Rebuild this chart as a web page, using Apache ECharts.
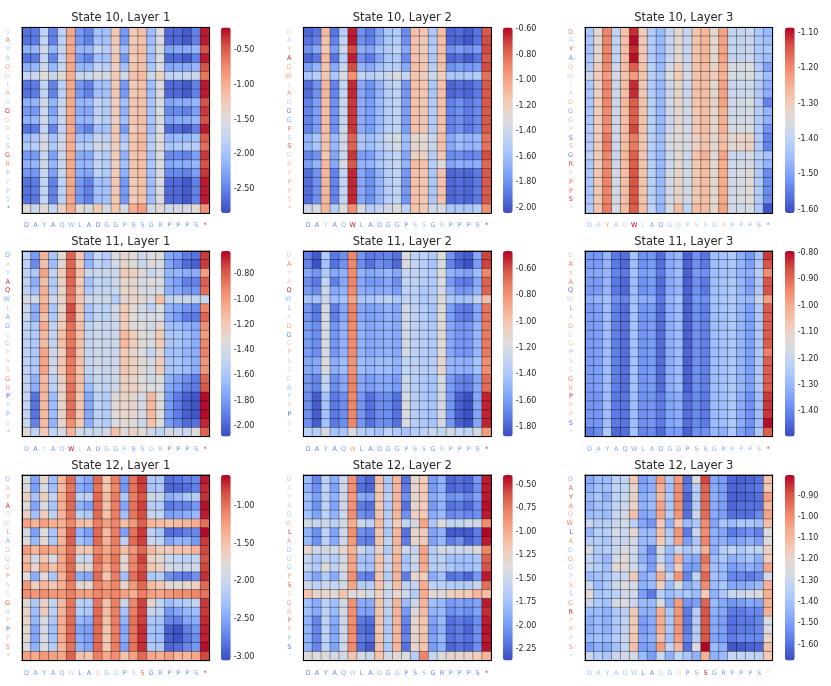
<!DOCTYPE html>
<html>
<head>
<meta charset="utf-8">
<style>html,body{margin:0;padding:0;background:#fff}#chart{width:831px;height:686px}</style>
<script src="https://cdn.jsdelivr.net/npm/echarts@6/dist/echarts.min.js"></script>
</head>
<body>
<div id="chart"></div>
<script>
var residues = ['D','A','Y','A','Q','W','L','A','D','G','G','P','S','S','G','R','P','P','P','S','*'];

// heat values: distinct rows per panel, order says which row goes where
var s10l1Rows = [
 [-2.6,-2.55,-1.75,-2.5,-1.8,-0.95,-2.35,-2.5,-2.0,-2.0,-1.2,-2.35,-1.25,-1.15,-2.05,-1.55,-2.65,-2.65,-2.75,-2.5,-0.25],
 [-2.35,-2.35,-1.7,-2.3,-1.7,-0.95,-2.2,-2.25,-1.8,-1.9,-1.25,-2.15,-1.2,-1.15,-2.0,-1.55,-2.45,-2.45,-2.5,-2.3,-0.35],
 [-2.15,-2.1,-1.65,-2.1,-1.7,-0.95,-2.1,-2.1,-1.75,-1.85,-1.3,-2.0,-1.2,-1.15,-1.95,-1.55,-2.25,-2.2,-2.2,-2.1,-0.45],
 [-2.05,-1.95,-1.6,-2.0,-1.65,-1.0,-2.0,-2.0,-1.7,-1.8,-1.25,-1.95,-1.2,-1.1,-1.9,-1.5,-2.1,-2.05,-2.1,-2.0,-0.5],
 [-1.9,-1.85,-1.55,-1.9,-1.6,-1.0,-1.85,-1.85,-1.6,-1.7,-1.3,-1.8,-1.2,-1.1,-1.85,-1.5,-1.95,-1.9,-1.85,-1.85,-0.6],
 [-1.75,-1.7,-1.5,-1.7,-1.45,-1.0,-1.7,-1.7,-1.55,-1.6,-1.25,-1.65,-1.15,-1.1,-1.7,-1.35,-1.8,-1.75,-1.75,-1.7,-0.65],
 [-1.5,-1.7,-1.45,-1.75,-1.35,-0.95,-1.45,-1.6,-1.25,-1.6,-1.2,-1.6,-1.0,-0.9,-1.65,-1.45,-1.65,-1.6,-1.6,-1.45,-0.8]
];
var s10l1Order = [0,0,2,0,2,5,0,0,2,1,2,0,3,4,1,2,1,0,0,0,6];

var s10l2Rows = [
 [-1.95,-1.9,-1.08,-1.9,-1.5,-0.63,-1.8,-1.88,-1.72,-1.55,-1.52,-1.82,-1.12,-1.15,-1.55,-1.1,-1.95,-1.92,-1.98,-1.9,-0.75],
 [-1.9,-1.85,-1.12,-1.85,-1.45,-0.62,-1.8,-1.85,-1.7,-1.55,-1.5,-1.8,-1.12,-1.15,-1.55,-1.1,-1.95,-1.95,-2.0,-1.9,-0.72],
 [-1.8,-1.7,-1.15,-1.75,-1.4,-0.72,-1.68,-1.72,-1.6,-1.52,-1.45,-1.7,-1.13,-1.18,-1.5,-1.13,-1.8,-1.75,-1.8,-1.75,-0.72],
 [-1.75,-1.65,-1.13,-1.7,-1.42,-0.72,-1.65,-1.7,-1.6,-1.5,-1.5,-1.7,-1.12,-1.15,-1.5,-1.12,-1.8,-1.75,-1.78,-1.75,-0.72],
 [-1.55,-1.5,-1.15,-1.55,-1.35,-0.92,-1.45,-1.5,-1.45,-1.42,-1.33,-1.45,-1.15,-1.2,-1.4,-1.2,-1.55,-1.55,-1.55,-1.52,-0.82],
 [-1.92,-1.8,-1.08,-1.85,-1.45,-0.65,-1.7,-1.8,-1.65,-1.5,-1.45,-1.78,-1.12,-1.15,-1.55,-1.12,-1.95,-1.92,-1.95,-1.88,-0.75],
 [-1.85,-1.75,-1.1,-1.8,-1.42,-0.68,-1.68,-1.75,-1.62,-1.5,-1.45,-1.75,-1.12,-1.15,-1.52,-1.12,-1.85,-1.8,-1.88,-1.82,-0.75],
 [-1.65,-1.55,-1.12,-1.62,-1.38,-0.78,-1.55,-1.6,-1.52,-1.42,-1.35,-1.6,-1.25,-1.28,-1.42,-1.12,-1.7,-1.6,-1.65,-1.62,-0.82],
 [-1.85,-1.8,-1.15,-1.72,-1.42,-0.68,-1.75,-1.75,-1.6,-1.5,-1.45,-1.72,-1.2,-1.22,-1.52,-1.15,-1.82,-1.8,-1.85,-1.82,-0.72],
 [-1.75,-1.65,-1.08,-1.7,-1.35,-0.75,-1.65,-1.65,-1.55,-1.48,-1.42,-1.65,-1.1,-1.13,-1.5,-1.3,-1.72,-1.68,-1.7,-1.68,-0.8],
 [-1.4,-1.35,-1.08,-1.5,-1.32,-0.92,-1.35,-1.5,-1.45,-1.38,-1.32,-1.48,-1.13,-1.18,-1.38,-1.35,-1.55,-1.55,-1.55,-1.5,-0.92]
];
var s10l2Order = [0,1,2,0,3,4,5,5,6,6,6,6,7,7,8,9,5,5,5,5,10];

var s10l3Rows = [
 [-1.43,-1.33,-1.19,-1.4,-1.28,-1.11,-1.3,-1.42,-1.46,-1.39,-1.33,-1.39,-1.28,-1.26,-1.33,-1.23,-1.39,-1.39,-1.38,-1.43,-1.46],
 [-1.43,-1.33,-1.19,-1.4,-1.27,-1.09,-1.29,-1.42,-1.46,-1.39,-1.33,-1.39,-1.28,-1.26,-1.33,-1.23,-1.39,-1.39,-1.38,-1.43,-1.45],
 [-1.44,-1.33,-1.19,-1.4,-1.27,-1.11,-1.29,-1.42,-1.46,-1.39,-1.33,-1.39,-1.28,-1.26,-1.33,-1.23,-1.39,-1.39,-1.38,-1.43,-1.43],
 [-1.42,-1.3,-1.2,-1.38,-1.27,-1.15,-1.28,-1.41,-1.46,-1.37,-1.31,-1.37,-1.28,-1.27,-1.32,-1.25,-1.36,-1.36,-1.35,-1.42,-1.5],
 [-1.38,-1.3,-1.22,-1.37,-1.28,-1.22,-1.28,-1.41,-1.44,-1.35,-1.3,-1.36,-1.28,-1.27,-1.3,-1.25,-1.36,-1.36,-1.35,-1.4,-1.45],
 [-1.43,-1.31,-1.19,-1.38,-1.27,-1.11,-1.29,-1.42,-1.46,-1.38,-1.32,-1.38,-1.28,-1.27,-1.33,-1.23,-1.38,-1.38,-1.37,-1.42,-1.48],
 [-1.43,-1.3,-1.19,-1.38,-1.26,-1.15,-1.28,-1.41,-1.46,-1.37,-1.32,-1.37,-1.28,-1.27,-1.32,-1.23,-1.37,-1.37,-1.35,-1.42,-1.54],
 [-1.43,-1.3,-1.2,-1.38,-1.27,-1.15,-1.28,-1.41,-1.46,-1.38,-1.33,-1.37,-1.29,-1.27,-1.33,-1.25,-1.37,-1.37,-1.36,-1.42,-1.47],
 [-1.42,-1.3,-1.2,-1.38,-1.27,-1.13,-1.28,-1.41,-1.46,-1.38,-1.33,-1.37,-1.29,-1.27,-1.33,-1.25,-1.36,-1.36,-1.35,-1.42,-1.52],
 [-1.42,-1.3,-1.18,-1.38,-1.27,-1.18,-1.29,-1.41,-1.45,-1.36,-1.34,-1.36,-1.31,-1.28,-1.33,-1.27,-1.33,-1.32,-1.31,-1.42,-1.54],
 [-1.41,-1.3,-1.19,-1.39,-1.26,-1.15,-1.29,-1.42,-1.46,-1.38,-1.33,-1.38,-1.28,-1.25,-1.34,-1.23,-1.38,-1.38,-1.36,-1.41,-1.44],
 [-1.43,-1.29,-1.19,-1.37,-1.27,-1.14,-1.28,-1.41,-1.46,-1.37,-1.32,-1.37,-1.29,-1.27,-1.33,-1.24,-1.37,-1.36,-1.34,-1.42,-1.53],
 [-1.42,-1.28,-1.18,-1.36,-1.27,-1.15,-1.27,-1.4,-1.47,-1.36,-1.27,-1.4,-1.27,-1.27,-1.33,-1.23,-1.37,-1.37,-1.36,-1.43,-1.6]
];
var s10l3Order = [0,1,2,1,3,4,5,5,6,7,7,8,9,9,10,7,11,11,11,11,12];

var s11l1Rows = [
 [-1.5,-1.8,-1.08,-1.6,-1.32,-0.82,-1.18,-1.7,-1.45,-1.55,-1.35,-1.3,-1.32,-1.45,-1.35,-1.35,-1.75,-1.8,-1.92,-1.95,-0.72],
 [-1.5,-1.87,-1.15,-1.65,-1.3,-0.82,-1.2,-1.68,-1.5,-1.55,-1.4,-1.3,-1.32,-1.45,-1.32,-1.38,-1.75,-1.85,-1.98,-2.02,-0.72],
 [-1.5,-1.58,-1.02,-1.5,-1.22,-0.82,-1.15,-1.45,-1.45,-1.45,-1.45,-1.22,-1.25,-1.33,-1.45,-1.4,-1.68,-1.68,-1.72,-1.72,-1.0],
 [-1.5,-1.72,-1.13,-1.58,-1.26,-0.82,-1.2,-1.62,-1.48,-1.5,-1.42,-1.3,-1.3,-1.4,-1.35,-1.38,-1.72,-1.78,-1.9,-1.9,-0.8],
 [-1.5,-1.65,-1.08,-1.55,-1.28,-0.85,-1.18,-1.58,-1.48,-1.48,-1.45,-1.28,-1.28,-1.38,-1.4,-1.4,-1.7,-1.75,-1.82,-1.82,-0.85],
 [-1.38,-1.42,-1.12,-1.42,-1.28,-0.88,-1.2,-1.42,-1.42,-1.42,-1.55,-1.3,-1.27,-1.3,-1.4,-1.15,-1.5,-1.45,-1.45,-1.48,-1.45],
 [-1.45,-1.72,-1.05,-1.6,-1.28,-0.75,-1.15,-1.6,-1.5,-1.52,-1.4,-1.2,-1.32,-1.4,-1.5,-1.35,-1.7,-1.75,-1.82,-1.85,-0.92],
 [-1.45,-1.72,-1.15,-1.58,-1.25,-0.78,-1.18,-1.6,-1.48,-1.5,-1.42,-1.2,-1.33,-1.4,-1.38,-1.38,-1.72,-1.8,-1.92,-1.92,-0.82],
 [-1.5,-1.58,-1.05,-1.5,-1.22,-0.85,-1.15,-1.5,-1.42,-1.45,-1.42,-1.22,-1.33,-1.35,-1.42,-1.3,-1.62,-1.65,-1.7,-1.75,-0.95],
 [-1.5,-1.58,-1.12,-1.5,-1.15,-0.87,-1.15,-1.48,-1.42,-1.45,-1.42,-1.12,-1.22,-1.32,-1.38,-1.2,-1.58,-1.58,-1.65,-1.72,-1.0],
 [-1.5,-1.58,-1.12,-1.5,-1.15,-0.87,-1.15,-1.48,-1.42,-1.45,-1.42,-1.12,-1.22,-1.32,-1.38,-1.2,-1.58,-1.58,-1.65,-1.72,-0.92],
 [-1.5,-1.58,-1.02,-1.42,-1.25,-0.83,-1.18,-1.48,-1.42,-1.45,-1.42,-1.2,-1.3,-1.35,-1.48,-1.3,-1.62,-1.62,-1.68,-1.72,-0.9],
 [-1.5,-1.58,-1.02,-1.42,-1.18,-0.88,-1.15,-1.48,-1.42,-1.45,-1.42,-1.18,-1.25,-1.33,-1.4,-1.22,-1.6,-1.6,-1.65,-1.72,-0.98],
 [-1.48,-1.7,-1.12,-1.52,-1.25,-0.9,-1.15,-1.55,-1.45,-1.48,-1.42,-1.25,-1.28,-1.35,-1.42,-1.35,-1.7,-1.78,-1.85,-1.92,-0.82],
 [-1.48,-1.72,-1.1,-1.52,-1.28,-0.85,-1.15,-1.65,-1.45,-1.5,-1.42,-1.25,-1.25,-1.33,-1.35,-1.35,-1.75,-1.8,-1.9,-1.92,-0.78],
 [-1.48,-1.95,-1.12,-1.65,-1.28,-0.85,-1.18,-1.75,-1.5,-1.55,-1.33,-1.28,-1.3,-1.4,-1.12,-1.35,-1.8,-1.92,-2.02,-2.05,-0.63],
 [-1.45,-1.9,-1.12,-1.7,-1.28,-0.95,-1.2,-1.72,-1.5,-1.55,-1.35,-1.32,-1.33,-1.45,-1.15,-1.35,-1.8,-1.88,-1.98,-1.95,-0.68],
 [-1.32,-1.5,-1.2,-1.5,-1.4,-1.1,-1.4,-1.45,-1.45,-1.4,-1.15,-1.35,-1.25,-1.32,-1.42,-1.5,-1.4,-1.42,-1.45,-1.35,-0.82]
];
var s11l1Order = [0,1,2,3,4,5,6,7,8,9,10,11,12,12,13,14,15,15,15,16,17];

var s11l2Rows = [
 [-1.7,-1.82,-1.38,-1.72,-1.65,-0.76,-1.62,-1.72,-1.7,-1.68,-1.75,-1.2,-1.32,-1.32,-1.38,-1.17,-1.62,-1.78,-1.82,-1.55,-0.58],
 [-1.68,-1.85,-1.42,-1.75,-1.63,-0.76,-1.65,-1.75,-1.65,-1.68,-1.78,-1.18,-1.3,-1.35,-1.42,-1.2,-1.68,-1.8,-1.85,-1.6,-0.58],
 [-1.55,-1.62,-1.38,-1.55,-1.5,-0.78,-1.5,-1.55,-1.52,-1.48,-1.55,-1.28,-1.3,-1.32,-1.35,-1.18,-1.5,-1.55,-1.58,-1.45,-0.75],
 [-1.65,-1.72,-1.3,-1.7,-1.55,-0.75,-1.55,-1.62,-1.6,-1.55,-1.65,-1.3,-1.32,-1.35,-1.38,-1.2,-1.6,-1.7,-1.72,-1.55,-0.65],
 [-1.6,-1.65,-1.25,-1.55,-1.5,-0.78,-1.52,-1.55,-1.55,-1.52,-1.6,-1.32,-1.33,-1.38,-1.38,-1.2,-1.5,-1.62,-1.62,-1.5,-0.65],
 [-1.42,-1.42,-1.25,-1.45,-1.42,-0.86,-1.4,-1.4,-1.35,-1.32,-1.38,-1.3,-1.32,-1.38,-1.35,-1.15,-1.38,-1.42,-1.42,-1.3,-0.98],
 [-1.62,-1.72,-1.2,-1.7,-1.55,-0.75,-1.55,-1.58,-1.55,-1.5,-1.55,-1.22,-1.32,-1.35,-1.42,-1.15,-1.58,-1.7,-1.72,-1.55,-0.7],
 [-1.6,-1.65,-1.2,-1.62,-1.5,-0.78,-1.5,-1.55,-1.52,-1.5,-1.55,-1.22,-1.32,-1.35,-1.38,-1.15,-1.55,-1.62,-1.62,-1.48,-0.72],
 [-1.55,-1.55,-1.18,-1.52,-1.45,-0.8,-1.45,-1.48,-1.45,-1.45,-1.5,-1.3,-1.32,-1.35,-1.35,-1.12,-1.48,-1.5,-1.52,-1.42,-0.78],
 [-1.62,-1.68,-1.3,-1.65,-1.55,-0.75,-1.55,-1.6,-1.55,-1.55,-1.6,-1.25,-1.35,-1.38,-1.42,-1.2,-1.6,-1.68,-1.7,-1.55,-0.68],
 [-1.65,-1.82,-1.42,-1.72,-1.65,-0.76,-1.62,-1.75,-1.65,-1.65,-1.75,-1.2,-1.35,-1.38,-1.42,-1.22,-1.62,-1.8,-1.85,-1.55,-0.52],
 [-1.32,-1.35,-1.2,-1.42,-1.4,-1.18,-1.35,-1.38,-1.42,-1.32,-1.38,-1.42,-1.35,-1.32,-1.25,-1.3,-1.22,-1.3,-1.32,-1.22,-0.82]
];
var s11l2Order = [0,1,2,3,4,5,6,6,7,7,7,7,8,8,9,9,10,10,10,10,11];

var s11l3Rows = [
 [-1.37,-1.37,-1.3,-1.42,-1.44,-1.27,-1.38,-1.37,-1.44,-1.33,-1.3,-1.46,-1.38,-1.43,-1.28,-1.27,-1.25,-1.32,-1.37,-1.27,-0.84],
 [-1.36,-1.36,-1.3,-1.42,-1.45,-1.28,-1.38,-1.36,-1.44,-1.33,-1.3,-1.46,-1.38,-1.42,-1.28,-1.27,-1.25,-1.3,-1.35,-1.25,-0.87],
 [-1.34,-1.33,-1.3,-1.4,-1.42,-1.27,-1.35,-1.34,-1.42,-1.32,-1.28,-1.46,-1.36,-1.38,-1.28,-1.27,-1.26,-1.3,-1.32,-1.23,-0.95],
 [-1.32,-1.3,-1.27,-1.38,-1.4,-1.27,-1.32,-1.32,-1.42,-1.3,-1.27,-1.45,-1.36,-1.38,-1.27,-1.26,-1.24,-1.28,-1.3,-1.2,-0.98],
 [-1.36,-1.35,-1.28,-1.41,-1.44,-1.27,-1.37,-1.36,-1.44,-1.32,-1.29,-1.46,-1.38,-1.41,-1.28,-1.27,-1.25,-1.3,-1.35,-1.25,-0.88],
 [-1.36,-1.35,-1.28,-1.41,-1.44,-1.27,-1.37,-1.36,-1.44,-1.32,-1.29,-1.45,-1.38,-1.41,-1.28,-1.27,-1.25,-1.3,-1.35,-1.25,-0.93],
 [-1.37,-1.37,-1.28,-1.42,-1.43,-1.28,-1.38,-1.37,-1.42,-1.34,-1.32,-1.44,-1.39,-1.42,-1.29,-1.28,-1.25,-1.32,-1.38,-1.28,-0.84],
 [-1.37,-1.37,-1.28,-1.42,-1.43,-1.28,-1.38,-1.37,-1.42,-1.34,-1.32,-1.44,-1.39,-1.42,-1.29,-1.28,-1.25,-1.32,-1.38,-1.28,-0.8],
 [-1.42,-1.39,-1.25,-1.45,-1.44,-1.27,-1.4,-1.39,-1.45,-1.36,-1.36,-1.46,-1.38,-1.38,-1.3,-1.32,-1.25,-1.35,-1.38,-1.25,-0.88]
];
var s11l3Order = [0,1,2,1,1,3,4,4,4,4,4,5,4,4,4,4,6,6,6,7,8];

var s12l1Rows = [
 [-1.85,-2.5,-1.7,-2.3,-1.4,-0.95,-2.35,-2.5,-0.95,-1.55,-1.05,-2.55,-1.0,-0.75,-2.2,-2.2,-2.85,-2.8,-2.75,-2.7,-0.65],
 [-1.8,-2.55,-1.85,-2.3,-1.45,-1.0,-2.45,-2.55,-1.0,-1.55,-1.1,-2.6,-1.0,-0.78,-2.25,-2.2,-2.9,-2.9,-2.85,-2.75,-0.7],
 [-1.65,-2.25,-1.6,-2.05,-1.35,-0.95,-2.1,-2.1,-0.95,-1.45,-1.05,-2.2,-1.05,-0.85,-1.95,-2.0,-2.45,-2.35,-2.2,-2.15,-0.72],
 [-1.8,-2.5,-1.85,-2.25,-1.35,-0.95,-2.4,-2.55,-0.95,-1.5,-1.05,-2.5,-1.0,-0.78,-2.15,-2.15,-2.8,-2.75,-2.75,-2.6,-0.62],
 [-1.65,-2.3,-1.6,-2.1,-1.4,-1.0,-2.1,-2.2,-0.95,-1.5,-1.05,-2.3,-1.0,-0.82,-2.0,-2.05,-2.55,-2.5,-2.45,-2.35,-0.65],
 [-1.25,-1.4,-1.25,-1.35,-1.35,-1.1,-1.45,-1.5,-1.05,-1.25,-1.1,-1.45,-1.2,-0.9,-1.4,-1.45,-1.5,-1.45,-1.4,-1.35,-0.98],
 [-1.9,-2.55,-1.8,-2.25,-1.4,-0.9,-2.4,-2.55,-0.95,-1.45,-1.05,-2.55,-1.0,-0.75,-2.1,-2.25,-2.85,-2.85,-2.75,-2.7,-0.6],
 [-1.8,-2.35,-1.7,-2.2,-1.4,-0.9,-2.25,-2.4,-0.95,-1.4,-1.05,-2.1,-0.95,-0.78,-2.0,-2.05,-2.5,-2.4,-2.4,-2.6,-0.75],
 [-1.2,-1.4,-1.25,-1.3,-1.3,-1.0,-1.55,-1.55,-1.1,-1.3,-1.1,-1.5,-1.2,-0.95,-1.45,-1.6,-1.6,-1.5,-1.5,-1.4,-0.8],
 [-1.45,-1.95,-1.55,-1.9,-1.3,-0.95,-2.0,-2.0,-0.98,-1.25,-1.0,-1.75,-1.1,-0.78,-1.65,-1.75,-2.0,-2.05,-2.1,-2.05,-0.85],
 [-1.35,-1.7,-1.3,-1.5,-1.3,-0.95,-1.7,-1.75,-1.05,-1.35,-1.05,-1.75,-1.1,-0.85,-1.55,-1.65,-1.9,-1.95,-1.95,-1.95,-0.8],
 [-1.8,-2.45,-1.75,-2.25,-1.4,-0.95,-2.45,-2.5,-0.95,-1.55,-1.05,-2.3,-0.98,-0.78,-2.2,-2.15,-2.65,-2.75,-2.8,-2.65,-0.72],
 [-1.2,-1.65,-1.4,-1.55,-1.35,-1.05,-1.75,-1.75,-1.1,-1.25,-1.1,-1.7,-1.2,-0.95,-1.45,-1.55,-1.75,-1.8,-1.7,-1.65,-0.95],
 [-1.15,-1.2,-1.15,-1.2,-1.2,-1.05,-1.25,-1.25,-1.1,-1.15,-1.1,-1.25,-1.35,-1.05,-1.25,-1.3,-1.2,-1.15,-1.15,-1.1,-1.0],
 [-1.75,-2.2,-1.65,-2.05,-1.45,-1.0,-2.1,-2.15,-1.0,-1.5,-1.05,-2.0,-1.1,-0.78,-1.7,-2.05,-2.3,-2.2,-2.15,-2.05,-0.75],
 [-1.7,-2.3,-1.6,-2.1,-1.4,-1.0,-2.15,-2.2,-0.95,-1.45,-1.05,-2.25,-1.05,-0.78,-2.0,-2.1,-2.6,-2.5,-2.35,-2.3,-0.75],
 [-1.7,-2.35,-1.85,-2.2,-1.35,-0.95,-2.35,-2.45,-0.95,-1.5,-1.05,-2.4,-1.0,-0.78,-2.2,-2.25,-2.7,-2.75,-2.5,-2.45,-0.7],
 [-1.75,-2.5,-1.9,-2.3,-1.35,-0.95,-2.5,-2.55,-0.95,-1.55,-1.05,-2.5,-1.0,-0.72,-2.25,-2.3,-2.95,-3.0,-2.75,-2.6,-0.67],
 [-1.75,-2.5,-1.85,-2.25,-1.35,-0.95,-2.45,-2.55,-0.95,-1.55,-1.05,-2.45,-1.0,-0.72,-2.25,-2.3,-2.95,-3.0,-2.8,-2.65,-0.67],
 [-1.85,-2.4,-1.85,-2.15,-1.4,-1.0,-2.4,-2.5,-0.95,-1.55,-1.05,-2.55,-1.0,-0.72,-2.2,-2.2,-2.9,-2.85,-2.7,-2.6,-0.62],
 [-1.25,-1.3,-1.2,-1.25,-1.3,-0.92,-1.5,-1.55,-1.05,-1.3,-1.15,-1.5,-1.25,-0.95,-1.3,-1.35,-1.25,-1.4,-1.4,-1.3,-0.8]
];

var s12l2Rows = [
 [-1.8,-2.1,-1.6,-1.9,-1.5,-0.85,-2.15,-2.25,-1.1,-1.7,-1.05,-2.2,-1.3,-1.2,-2.0,-1.85,-2.25,-2.2,-2.25,-2.0,-0.45],
 [-1.85,-2.05,-1.6,-1.95,-1.5,-0.85,-2.2,-2.25,-1.15,-1.7,-1.05,-2.15,-1.3,-1.2,-2.0,-1.85,-2.25,-2.2,-2.25,-2.05,-0.45],
 [-1.75,-1.95,-1.6,-1.85,-1.5,-0.9,-1.9,-1.95,-1.15,-1.6,-1.05,-2.05,-1.3,-1.2,-1.9,-1.8,-2.05,-2.0,-2.1,-1.95,-0.45],
 [-1.8,-2.05,-1.6,-1.95,-1.5,-0.85,-2.15,-2.2,-1.15,-1.7,-1.05,-2.2,-1.3,-1.2,-2.0,-1.85,-2.2,-2.15,-2.25,-2.05,-0.42],
 [-1.75,-1.95,-1.6,-1.85,-1.5,-0.85,-2.05,-2.1,-1.15,-1.65,-1.05,-2.05,-1.25,-1.2,-1.9,-1.8,-2.1,-2.05,-2.1,-2.05,-0.45],
 [-1.45,-1.55,-1.5,-1.6,-1.45,-1.0,-1.5,-1.6,-1.1,-1.6,-1.2,-1.55,-1.45,-0.95,-1.7,-1.4,-1.55,-1.55,-1.5,-1.45,-0.82],
 [-1.85,-2.05,-1.6,-1.95,-1.5,-0.85,-2.05,-2.1,-1.15,-1.7,-1.05,-2.2,-1.3,-1.2,-1.95,-1.85,-2.3,-2.3,-2.3,-2.15,-0.4],
 [-1.8,-2.05,-1.6,-1.9,-1.5,-0.9,-2.1,-2.15,-1.15,-1.6,-1.05,-2.15,-1.3,-1.2,-1.95,-1.8,-2.15,-2.05,-2.25,-2.15,-0.45],
 [-1.3,-1.5,-1.45,-1.45,-1.3,-1.05,-1.5,-1.65,-1.25,-1.65,-1.1,-1.5,-1.55,-0.95,-1.65,-1.45,-1.5,-1.5,-1.5,-1.38,-0.8],
 [-1.55,-1.7,-1.55,-1.65,-1.45,-0.95,-1.75,-1.75,-1.15,-1.55,-1.05,-1.75,-1.5,-0.95,-1.65,-1.6,-1.75,-1.75,-1.75,-1.7,-0.65],
 [-1.55,-1.65,-1.35,-1.6,-1.4,-0.95,-1.7,-1.75,-1.15,-1.55,-1.05,-1.7,-1.55,-1.0,-1.65,-1.6,-1.7,-1.75,-1.75,-1.7,-0.6],
 [-1.75,-1.95,-1.65,-1.9,-1.5,-0.85,-2.1,-2.15,-1.15,-1.65,-1.05,-2.15,-1.3,-1.2,-1.9,-1.75,-2.2,-2.15,-2.25,-2.0,-0.45],
 [-1.5,-1.6,-1.5,-1.55,-1.45,-0.95,-1.65,-1.65,-1.15,-1.5,-1.1,-1.6,-1.55,-1.0,-1.6,-1.6,-1.65,-1.65,-1.65,-1.55,-0.7],
 [-1.15,-1.3,-1.28,-1.35,-1.15,-1.4,-1.35,-1.45,-1.25,-1.5,-1.3,-1.5,-1.65,-1.0,-1.35,-1.35,-1.25,-1.2,-1.2,-1.05,-1.1],
 [-1.75,-1.9,-1.6,-1.75,-1.45,-0.85,-1.9,-1.9,-1.15,-1.55,-1.05,-1.8,-1.5,-1.05,-1.75,-1.8,-2.0,-1.95,-2.0,-1.95,-0.45],
 [-1.75,-1.9,-1.6,-1.8,-1.45,-0.85,-1.95,-1.95,-1.15,-1.6,-1.05,-2.0,-1.4,-1.1,-1.85,-1.8,-2.05,-2.0,-2.05,-1.95,-0.5],
 [-1.85,-2.1,-1.6,-1.9,-1.5,-0.85,-2.15,-2.2,-1.15,-1.65,-1.05,-2.1,-1.3,-1.15,-1.95,-1.8,-2.2,-2.15,-2.2,-2.05,-0.45],
 [-1.85,-2.1,-1.6,-1.95,-1.5,-0.82,-2.2,-2.25,-1.15,-1.7,-1.05,-2.15,-1.3,-1.15,-2.0,-1.85,-2.2,-2.15,-2.25,-2.05,-0.43],
 [-1.85,-2.1,-1.6,-1.9,-1.5,-0.85,-2.15,-2.2,-1.15,-1.65,-1.05,-2.1,-1.3,-1.15,-1.95,-1.8,-2.2,-2.15,-2.2,-2.05,-0.45],
 [-1.85,-2.1,-1.6,-1.95,-1.5,-0.82,-2.2,-2.3,-1.12,-1.7,-1.05,-2.2,-1.3,-1.15,-2.0,-1.85,-2.25,-2.2,-2.25,-2.05,-0.43],
 [-1.4,-1.4,-1.4,-1.45,-1.45,-1.15,-1.45,-1.5,-1.15,-1.45,-1.35,-1.4,-1.65,-0.8,-1.55,-1.4,-1.3,-1.3,-1.3,-1.2,-1.05]
];

var s12l3Rows = [
 [-1.47,-1.42,-1.42,-1.34,-1.32,-1.15,-1.5,-1.45,-1.03,-1.38,-1.03,-1.6,-1.26,-0.88,-1.48,-1.5,-1.62,-1.63,-1.62,-1.6,-1.12],
 [-1.45,-1.4,-1.4,-1.32,-1.32,-1.2,-1.48,-1.45,-1.08,-1.4,-1.0,-1.58,-1.35,-0.92,-1.47,-1.5,-1.62,-1.62,-1.6,-1.58,-1.15],
 [-1.42,-1.38,-1.45,-1.33,-1.3,-1.18,-1.45,-1.42,-1.1,-1.38,-1.0,-1.62,-1.36,-0.93,-1.45,-1.5,-1.63,-1.63,-1.62,-1.6,-1.03],
 [-1.45,-1.4,-1.4,-1.33,-1.3,-1.2,-1.45,-1.42,-1.05,-1.38,-1.0,-1.6,-1.36,-0.93,-1.47,-1.5,-1.62,-1.6,-1.6,-1.6,-1.1],
 [-1.42,-1.4,-1.42,-1.3,-1.28,-1.12,-1.48,-1.45,-1.05,-1.36,-1.02,-1.6,-1.3,-0.94,-1.47,-1.5,-1.6,-1.6,-1.6,-1.55,-1.05],
 [-1.3,-1.35,-1.35,-1.3,-1.27,-1.35,-1.48,-1.52,-1.15,-1.45,-1.15,-1.42,-1.38,-1.0,-1.48,-1.38,-1.42,-1.38,-1.38,-1.4,-1.12],
 [-1.43,-1.35,-1.35,-1.27,-1.3,-1.2,-1.42,-1.42,-1.12,-1.37,-1.02,-1.58,-1.3,-1.0,-1.45,-1.48,-1.58,-1.55,-1.53,-1.57,-1.25],
 [-1.35,-1.35,-1.38,-1.3,-1.3,-1.27,-1.42,-1.42,-1.15,-1.35,-1.05,-1.5,-1.38,-0.98,-1.45,-1.45,-1.5,-1.48,-1.45,-1.5,-1.25],
 [-1.27,-1.37,-1.35,-1.3,-1.25,-1.28,-1.43,-1.55,-1.25,-1.42,-1.3,-1.38,-1.33,-1.08,-1.45,-1.35,-1.32,-1.38,-1.33,-1.33,-1.18],
 [-1.32,-1.38,-1.43,-1.27,-1.22,-1.3,-1.45,-1.5,-1.3,-1.43,-1.08,-1.45,-1.47,-0.95,-1.42,-1.38,-1.45,-1.42,-1.38,-1.45,-1.17],
 [-1.33,-1.36,-1.4,-1.23,-1.23,-1.27,-1.4,-1.5,-1.2,-1.42,-1.15,-1.5,-1.5,-1.0,-1.4,-1.42,-1.5,-1.48,-1.45,-1.48,-1.05],
 [-1.42,-1.4,-1.38,-1.32,-1.3,-1.15,-1.46,-1.42,-1.08,-1.33,-1.02,-1.56,-1.33,-0.93,-1.4,-1.42,-1.55,-1.55,-1.58,-1.55,-1.27],
 [-1.3,-1.42,-1.38,-1.28,-1.25,-1.27,-1.45,-1.42,-1.18,-1.42,-1.25,-1.45,-1.4,-1.0,-1.42,-1.38,-1.48,-1.47,-1.45,-1.42,-1.08],
 [-1.22,-1.38,-1.37,-1.34,-1.28,-1.28,-1.5,-1.58,-1.35,-1.42,-1.38,-1.38,-1.42,-1.15,-1.45,-1.38,-1.3,-1.3,-1.27,-1.25,-1.08],
 [-1.3,-1.38,-1.4,-1.27,-1.25,-1.3,-1.42,-1.42,-1.25,-1.47,-1.03,-1.52,-1.5,-0.92,-1.42,-1.47,-1.52,-1.5,-1.47,-1.48,-1.08],
 [-1.42,-1.42,-1.45,-1.37,-1.35,-1.15,-1.45,-1.45,-1.07,-1.38,-1.02,-1.58,-1.35,-0.9,-1.45,-1.48,-1.58,-1.58,-1.55,-1.55,-1.08],
 [-1.45,-1.42,-1.45,-1.37,-1.33,-1.15,-1.5,-1.47,-1.07,-1.38,-1.02,-1.58,-1.36,-0.9,-1.47,-1.5,-1.6,-1.58,-1.58,-1.55,-1.25],
 [-1.46,-1.42,-1.45,-1.37,-1.33,-1.15,-1.5,-1.47,-1.07,-1.38,-1.02,-1.58,-1.36,-0.9,-1.47,-1.5,-1.6,-1.58,-1.58,-1.55,-1.25],
 [-1.42,-1.4,-1.42,-1.35,-1.3,-1.15,-1.47,-1.45,-1.12,-1.4,-1.03,-1.55,-1.35,-0.9,-1.48,-1.5,-1.58,-1.55,-1.55,-1.55,-1.2],
 [-1.5,-1.45,-1.47,-1.4,-1.32,-1.12,-1.5,-1.48,-1.03,-1.33,-1.1,-1.6,-1.25,-0.8,-1.42,-1.45,-1.65,-1.65,-1.63,-1.62,-1.12],
 [-1.3,-1.36,-1.38,-1.3,-1.28,-1.28,-1.42,-1.5,-1.3,-1.45,-1.32,-1.38,-1.45,-1.08,-1.45,-1.42,-1.3,-1.32,-1.32,-1.33,-1.15]
];
var identity = residues.map(function(r, i){ return i; });

// how strong each residue letter is tinted, 0 blue .. 10 red
var s10l1Y = [5,8,3.5,3.5,7,5.5,4,7,4.5,9.5,6,6.2,5.2,3,9,7.5,3,4.8,3.5,3.5,1];
var s10l1X = [1.5,1.5,2,1.5,2.5,2.8,2,1.5,1.5,2,2,2,2,2,2,2,1.5,1.5,1.5,2,9.5];
var s10l2Y = [4.8,4,6.5,9.5,7,7,4.5,7.5,4.2,1.5,2.5,8,4,9,4.5,6.2,6,7,6.5,6,7.5];
var s10l2X = [1.5,1.5,3.5,1.5,2.5,9.8,2,1.5,2,2,2,1.5,3,3,2,3.5,1.5,1.5,1.5,2,9.5];
var s10l3Y = [7.8,4,9,1.5,6.5,5,5,4.5,6.5,2.5,3.5,5.2,1,7,1.5,9,5.5,8.5,8.5,9.5,3.5];
var s10l3X = [3,3.5,7.5,3,4.5,10,4,2,2,3.5,3.5,3,4,4,3.5,5.8,3,3,3,2.5,1];
var s11l1Y = [2,6,3.5,9.5,9.5,2.5,6.5,2,2,5,6.5,4.8,6.2,6.5,8,7,0.5,4,2,5.2,7.5];
var s11l1X = [2.5,1,4,2,3,9.8,4,1.5,2,2.5,2.5,3,2,2.5,3,3,1.5,1.5,1.5,2,9.5];
var s11l2Y = [4.2,8,5.2,5.5,9.5,3,2.2,5,7,1.5,5.2,6.5,4.2,4.5,5.2,3,4,6,1,4.2,5];
var s11l2X = [1.5,1.5,2,1.5,2,7,1.5,1.5,2,2,2,2,2.5,2.5,2,3.5,2,2,2,2,9.5];
var s11l3Y = [6,8,6.8,8,1,4.6,2,4.4,7,5,5.8,3,6.2,5.4,8,7,9.5,6.5,6.5,1,4];
var s11l3X = [2.5,2.5,2.5,2,2,2.5,2.5,2.5,2,2.5,2.5,1.5,2.5,2.5,2.5,2.5,3,3,3,3,9.5];
var s12l1Y = [3,6.5,7,9.5,4.6,5,7.5,2.5,6.5,3.5,6.5,7.5,4,5,8.5,4,6.5,1,6.5,8,7];
var s12l1X = [2,2,2,2,2.5,4.5,1.5,1.5,6,2.5,3.5,1.5,3.5,8.5,1.5,2,1.5,1.5,1.5,2,9.5];
var s12l2Y = [6.2,5.2,4.8,4,4,6.2,9.5,7.5,3.5,3.5,3.5,7,8.8,5,7,6.8,8,6.5,3.5,1,4.8];
var s12l2X = [1.5,1.5,1.5,1.5,2,3.8,1.5,1.5,3,2,3,1.5,1.5,3,1.5,1.5,1.5,1.5,1.5,1.5,9.5];
var s12l3Y = [3,8.5,9,8,6.5,8,0.5,7.5,3.5,7.5,3.5,3.8,7,3.5,7.5,9.5,6.5,7,4,7.5,4.8];
var s12l3X = [3,3,3,3,3.5,3.5,1.5,1.5,4,2.5,6,1.5,2.5,9.5,2,2,2,2,2,2,4];

// colorbar ticks
var s10l1Ticks = [-0.5,-1,-1.5,-2,-2.5];
var s10l2Ticks = [-0.6,-0.8,-1,-1.2,-1.4,-1.6,-1.8,-2];
var s10l3Ticks = [-1.1,-1.2,-1.3,-1.4,-1.5,-1.6];
var s11l1Ticks = [-0.8,-1,-1.2,-1.4,-1.6,-1.8,-2];
var s11l2Ticks = [-0.6,-0.8,-1,-1.2,-1.4,-1.6,-1.8];
var s11l3Ticks = [-0.8,-0.9,-1,-1.1,-1.2,-1.3,-1.4];
var s12l1Ticks = [-1,-1.5,-2,-2.5,-3];
var s12l2Ticks = [-0.5,-0.75,-1,-1.25,-1.5,-1.75,-2,-2.25];
var s12l3Ticks = [-0.9,-1,-1.1,-1.2,-1.3,-1.4,-1.5,-1.6];

var panels = [
 {title:'State 10, Layer 1', rows:s10l1Rows, order:s10l1Order, y:s10l1Y, x:s10l1X, ticks:s10l1Ticks, min:-2.84, max:-0.18},
 {title:'State 10, Layer 2', rows:s10l2Rows, order:s10l2Order, y:s10l2Y, x:s10l2X, ticks:s10l2Ticks, min:-2.04, max:-0.585},
 {title:'State 10, Layer 3', rows:s10l3Rows, order:s10l3Order, y:s10l3Y, x:s10l3X, ticks:s10l3Ticks, min:-1.61, max:-1.084},
 {title:'State 11, Layer 1', rows:s11l1Rows, order:s11l1Order, y:s11l1Y, x:s11l1X, ticks:s11l1Ticks, min:-2.084, max:-0.616},
 {title:'State 11, Layer 2', rows:s11l2Rows, order:s11l2Order, y:s11l2Y, x:s11l2X, ticks:s11l2Ticks, min:-1.87, max:-0.467},
 {title:'State 11, Layer 3', rows:s11l3Rows, order:s11l3Order, y:s11l3Y, x:s11l3X, ticks:s11l3Ticks, min:-1.495, max:-0.794},
 {title:'State 12, Layer 1', rows:s12l1Rows, order:identity, y:s12l1Y, x:s12l1X, ticks:s12l1Ticks, min:-3.053, max:-0.586},
 {title:'State 12, Layer 2', rows:s12l2Rows, order:identity, y:s12l2Y, x:s12l2X, ticks:s12l2Ticks, min:-2.37, max:-0.398},
 {title:'State 12, Layer 3', rows:s12l3Rows, order:identity, y:s12l3Y, x:s12l3X, ticks:s12l3Ticks, min:-1.675, max:-0.804}
];

var coolwarm = ['#3b4cc0','#5977e3','#7b9ff9','#9ebeff','#c0d4f5','#dddcdc','#f2cbb7','#f7ac8e','#ee8468','#d65244','#b40426'];
var FONT = '"DejaVu Sans"';
var lefts = [22, 303.5, 585], tops = [27.5, 251, 475], barLefts = [221, 503, 785];
var W = 187.5, H = 185.5, BAR = 9.7;

function tint(w) {
  var i = Math.min(9, Math.floor(w)), f = w - i;
  var a = echarts.color.parse(coolwarm[i]), b = echarts.color.parse(coolwarm[i + 1]);
  return 'rgb(' + [0,1,2].map(function(k){ return Math.round(a[k] + (b[k] - a[k]) * f); }).join(',') + ')';
}
function letters(weights) {
  return residues.map(function(r, i){ return {value: r, textStyle: {color: tint(weights[i])}}; });
}

var myChart = echarts.init(document.getElementById('chart'));
var option = {
  animation: false, backgroundColor: '#fff',
  title: [], grid: [], xAxis: [], yAxis: [], visualMap: [], series: []
};

panels.forEach(function(p, n) {
  var col = n % 3, row = Math.floor(n / 3);
  var g = option.grid.length;
  option.title.push({text: p.title, left: lefts[col] + W / 2, top: tops[row] - 20, textAlign: 'center',
    textStyle: {fontFamily: FONT, fontSize: 11.5, fontWeight: 'normal', color: '#262626'}});
  option.grid.push({left: lefts[col], top: tops[row], width: W, height: H});
  option.grid.push({left: barLefts[col], top: tops[row], width: BAR, height: H});

  var frame = {show: true, lineStyle: {color: '#000', width: 1}, onZero: false};
  var xi = option.xAxis.length, yi = option.yAxis.length;
  option.xAxis.push({type: 'category', gridIndex: g, position: 'bottom', data: letters(p.x), z: 5,
    axisLine: frame, axisTick: {show: false}, splitLine: {show: false},
    axisLabel: {interval: 0, margin: 9, fontSize: 6.5, fontFamily: FONT, hideOverlap: false}});
  option.xAxis.push({type: 'category', gridIndex: g, position: 'top', data: residues, z: 5,
    axisLine: frame, axisTick: {show: false}, axisLabel: {show: false}});
  option.yAxis.push({type: 'category', gridIndex: g, position: 'left', inverse: true, data: letters(p.y), z: 5,
    axisLine: frame, axisTick: {show: false}, splitLine: {show: false},
    axisLabel: {interval: 0, margin: 12, align: 'center', fontSize: 6.5, fontFamily: FONT, hideOverlap: false}});
  option.yAxis.push({type: 'category', gridIndex: g, position: 'right', inverse: true, data: residues, z: 5,
    axisLine: frame, axisTick: {show: false}, axisLabel: {show: false}});

  // colorbar axis, the bar itself is the visualMap
  option.xAxis.push({type: 'value', gridIndex: g + 1, show: false, min: 0, max: 1});
  var digits = 2;
  option.yAxis.push({type: 'value', gridIndex: g + 1, position: 'right', min: p.min, max: p.max,
    axisLine: {show: false}, splitLine: {show: false},
    axisTick: {show: true, length: 4, customValues: p.ticks, lineStyle: {color: '#333', width: 1}},
    axisLabel: {show: true, customValues: p.ticks, margin: 3, fontSize: 8, fontFamily: FONT, color: '#262626',
      formatter: function(v){ return v.toFixed(digits); }}});

  var cells = [];
  p.order.forEach(function(r, y) {
    p.rows[r].forEach(function(v, x) { cells.push([x, y, v]); });
  });
  var s = option.series.length;
  option.series.push({type: 'heatmap', xAxisIndex: xi, yAxisIndex: yi, data: cells, silent: true,
    itemStyle: {borderColor: 'rgba(0,0,0,0.55)', borderWidth: 0.6}, emphasis: {disabled: true}});
  option.visualMap.push({type: 'continuous', seriesIndex: s, dimension: 2, min: p.min, max: p.max,
    left: barLefts[col], top: tops[row], itemWidth: BAR, itemHeight: H, padding: 0, text: null,
    calculable: false, hoverLink: false, inRange: {color: coolwarm}});
});

myChart.setOption(option);
</script>
</body>
</html>
